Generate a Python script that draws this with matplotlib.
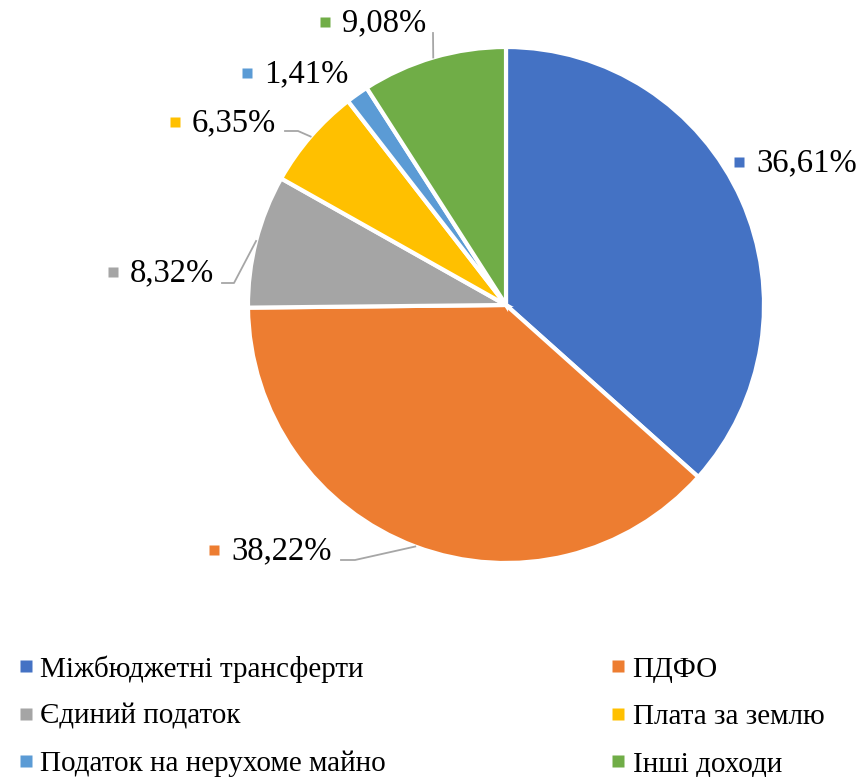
import matplotlib.pyplot as plt
from matplotlib.lines import Line2D
import numpy as np

plt.rcParams['font.family'] = 'serif'
plt.rcParams['font.serif'] = ['Liberation Serif', 'DejaVu Serif']

# data
categories = ['Міжбюджетні трансферти', 'ПДФО', 'Єдиний податок',
              'Плата за землю', 'Податок на нерухоме майно', 'Інші доходи']
shares = [36.61, 38.22, 8.32, 6.35, 1.41, 9.08]
share_labels = ['36,61%', '38,22%', '8,32%', '6,35%', '1,41%', '9,08%']
colors = ['#4472C4', '#ED7D31', '#A5A5A5', '#FFC000', '#5B9BD5', '#70AD47']

W, H = 860, 777
fig = plt.figure(figsize=(W / 100, H / 100), dpi=100)
ax = fig.add_axes([0, 0, 1, 1])

cx, cy, r = 506, 305, 258
wedges, _ = ax.pie(shares, colors=colors, startangle=-90, counterclock=True,
                   center=(cx, cy), radius=r, frame=True,
                   wedgeprops=dict(edgecolor='white', linewidth=3))
ax.set_xlim(0, W)
ax.set_ylim(H, 0)
ax.set_aspect('equal')
ax.axis('off')

# label layout: marker position and leader line points (image pixels)
marker_pos = [(739, 162), (214, 550), (113, 272), (175, 122), (247, 73), (325, 22)]
leaders = [None, [(341, 560), (355, 560)], [(222, 283), (234, 283)],
           [(285, 131), (298, 131)], None, [(433, 33)]]

cum = np.cumsum([0] + shares)
for i, lab in enumerate(share_labels):
    mx, my = marker_pos[i]
    ax.plot(mx, my, marker='s', ms=7.5, color=colors[i], mec='none')
    ax.text(mx + 17, my + 1, lab, fontsize=23.5, ha='left', va='center', color='black')
    if leaders[i]:
        mid = (cum[i] + cum[i + 1]) / 2 / 100 * 2 * np.pi
        ex, ey = cx + r * np.sin(mid), cy - r * np.cos(mid)
        pts = leaders[i] + [(ex, ey)]
        ax.plot([p[0] for p in pts], [p[1] for p in pts], color='#A6A6A6', lw=1.3)

handles = [Line2D([], [], marker='s', ls='', ms=8, color=c, mec='none') for c in colors]
order = [0, 2, 4, 1, 3, 5]
fig.legend([handles[k] for k in order], [categories[k] for k in order],
           loc='upper left', bbox_to_anchor=(0.008, 0.172), ncol=2, frameon=False,
           fontsize=21, handlelength=0.5, handletextpad=0.25, columnspacing=7.7,
           labelspacing=0.72, borderaxespad=0.0)

fig.savefig('out.png', dpi=100)
